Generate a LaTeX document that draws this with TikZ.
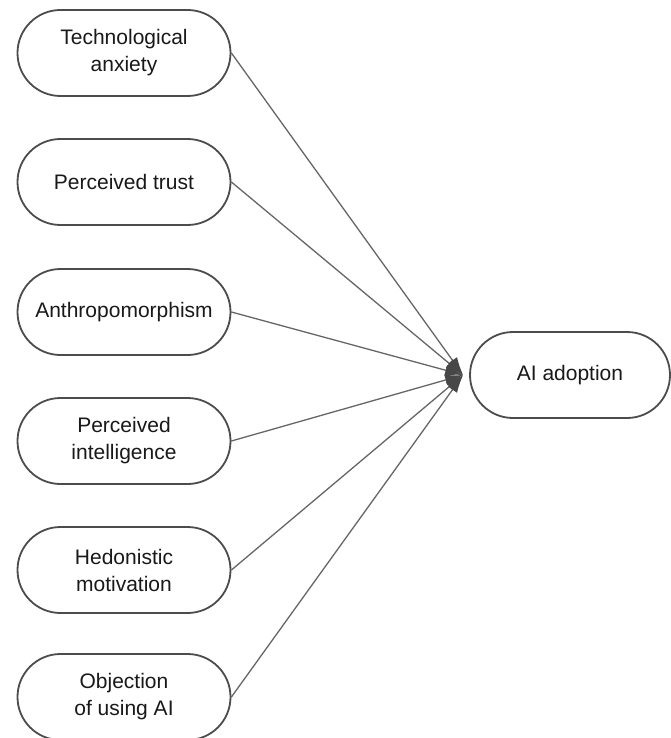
\documentclass[tikz,border=0pt]{standalone}
\usepackage{fontspec}
\setmainfont{Liberation Sans}
\usetikzlibrary{arrows.meta, shapes.misc}

\begin{document}
\begin{tikzpicture}[x=1pt, y=-1pt, line cap=round, line join=round,
    factor/.style={rounded rectangle, draw=black!70, line width=1.8pt, fill=white,
        minimum width=217pt, minimum height=86pt, inner sep=2pt, align=center,
        font=\fontsize{21}{27}\selectfont, text=black!90},
    link/.style={black!60, line width=1.3pt, -{Latex[length=18pt, width=11pt, color=black!72]}}]
    \useasboundingbox (0,0) rectangle (671,738);
    \begin{large}
        % Factors
        \draw (124, 53) node[factor] (TA) {Technological\\anxiety};
        \draw (124, 182) node[factor] (PT) {Perceived trust};
        \draw (124, 312) node[factor] (AN) {Anthropomorphism};
        \draw (124, 441) node[factor] (PI) {Perceived\\intelligence};
        \draw (124, 570) node[factor] (HM) {Hedonistic\\motivation};
        \draw (124, 697) node[factor] (OU) {Objection\\of using AI};

        % Outcome
        \draw (570, 375) node[factor, minimum width=204pt] (AI) {AI adoption};
        \coordinate (hub) at ([xshift=-6pt]AI.west);

        % Edges
        \foreach \source/\target in {TA/hub, PT/hub, AN/hub, PI/hub, HM/hub, OU/hub} {
                \draw[link] (\source.east) -- (\target);
            }
    \end{large}
\end{tikzpicture}
\end{document}
